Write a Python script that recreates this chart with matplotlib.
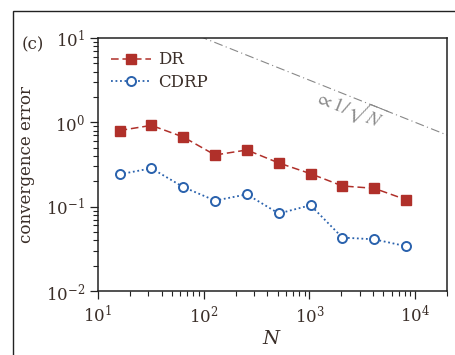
import numpy as np
import matplotlib
matplotlib.use('Agg')
import matplotlib.pyplot as plt
from matplotlib.patches import Rectangle

# data
N = [16, 32, 64, 128, 256, 512, 1024, 2048, 4096, 8192]
err_dr = [0.80, 0.92, 0.67, 0.41, 0.47, 0.33, 0.246, 0.176, 0.165, 0.121]
err_cdrp = [0.242, 0.285, 0.171, 0.118, 0.140, 0.083, 0.104, 0.043, 0.041, 0.034]
ref_coef = 100.0  # reference line: ref_coef / sqrt(N)

plt.rcParams['font.family'] = 'DejaVu Serif'
plt.rcParams['mathtext.fontset'] = 'dejavuserif'
txt = '#3a2e28'

fig = plt.figure(figsize=(4.56, 3.55), dpi=100)
W, H = 456, 355
ax = fig.add_axes([98 / W, 1 - 291 / H, (447 - 98) / W, (291 - 38) / H])

# outer frame (only top/left visible)
fig.patches.append(Rectangle((13 / W, -0.1), 1.2, 1 - 11 / H + 0.1, transform=fig.transFigure,
                             fill=False, edgecolor='#222222', linewidth=1.0))

ax.plot(N, err_dr, color='#b0302a', linestyle=(0, (5, 2.5)), linewidth=1.1,
        marker='s', markersize=7, label='DR', zorder=3)
ax.plot(N, err_cdrp, color='#2a62ad', linestyle=(0, (1, 1.5)), linewidth=1.3,
        marker='o', markersize=6.5, markerfacecolor='white', markeredgewidth=1.4,
        label='CDRP', zorder=3)

nref = np.logspace(1, np.log10(2e4), 50)
ax.plot(nref, ref_coef / np.sqrt(nref), color='#888888', linestyle='-.', linewidth=0.8,
        dashes=(8, 3, 1, 3), zorder=2)
ax.text(2.4e3, 1.45, r'$\propto 1/\sqrt{N}$', color='#8a8a8a', fontsize=14,
        rotation=-22, ha='center', va='center', math_fontfamily='stix')

ax.set_xscale('log')
ax.set_yscale('log')
ax.set_xlim(10, 2e4)
ax.set_ylim(1e-2, 1e1)

for s in ax.spines.values():
    s.set_linewidth(1.1)
    s.set_color('#222222')
ax.tick_params(which='major', direction='out', length=6, width=0.9, colors='#222222',
               labelsize=12, labelcolor=txt, top=False, right=False)
ax.tick_params(which='minor', direction='out', length=3.5, width=0.8, colors='#222222',
               top=False, right=False)
ax.tick_params(axis='x', which='major', pad=4)

ax.set_xlabel(r'$N$', fontsize=14, color=txt, labelpad=2)
ax.set_ylabel('convergence error', fontsize=12, color=txt, labelpad=8)

leg = ax.legend(loc='upper left', frameon=False, fontsize=12, handlelength=2.4,
                handletextpad=0.4, labelspacing=0.35, borderaxespad=0.4,
                bbox_to_anchor=(0.0, 1.0))
for t in leg.get_texts():
    t.set_color(txt)

fig.text(22 / W, 1 - 45 / H, '(c)', fontsize=12, color=txt, ha='left', va='center')

fig.savefig('out.png', dpi=100)
